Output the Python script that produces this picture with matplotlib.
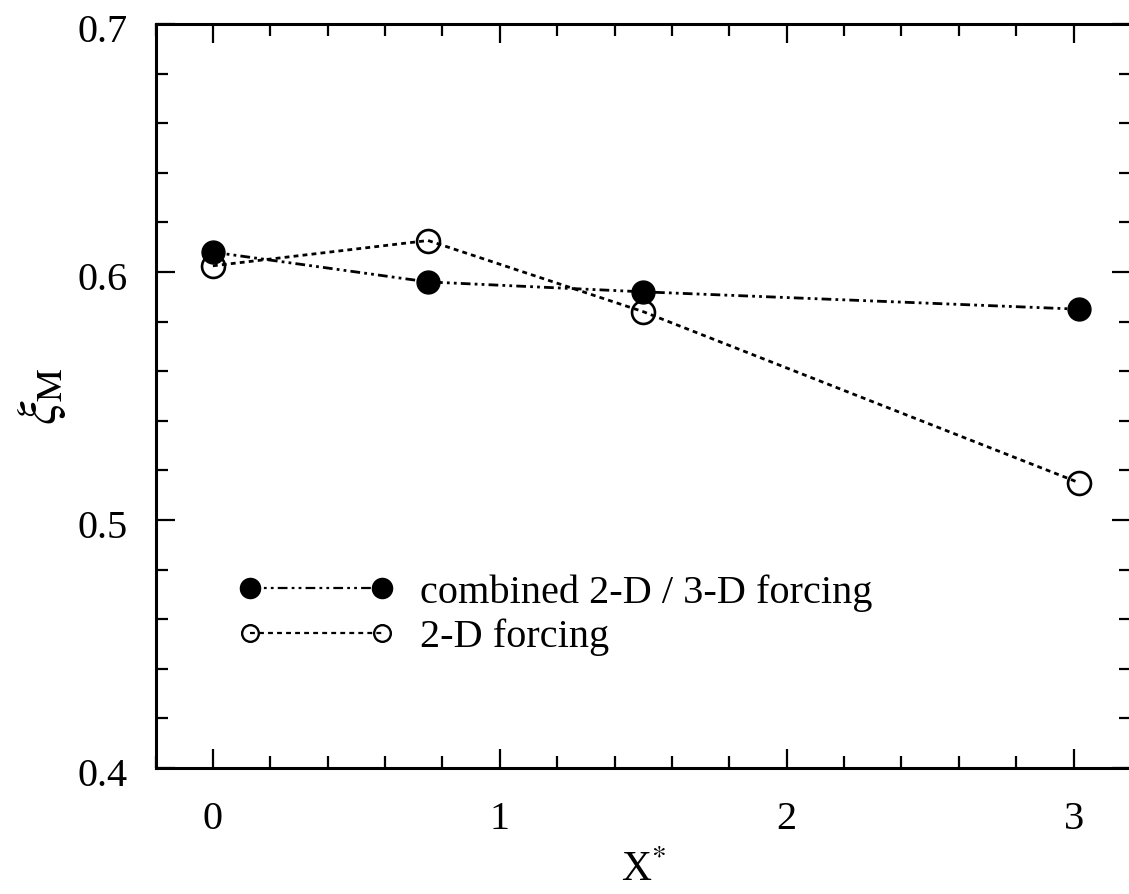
import matplotlib
matplotlib.use("Agg")
import matplotlib.pyplot as plt
from matplotlib.lines import Line2D
from matplotlib.ticker import MultipleLocator
from matplotlib.transforms import ScaledTranslation

plt.rcParams['font.family'] = ['Liberation Serif', 'DejaVu Serif']
plt.rcParams['mathtext.fontset'] = 'stix'
plt.rcParams['lines.scale_dashes'] = False

# data
x_pos = [0.0, 0.75, 1.5, 3.02]
xi_combined = [0.608, 0.596, 0.592, 0.585]
xi_2d = [0.6025, 0.6127, 0.584, 0.515]
label_combined = "combined 2-D / 3-D forcing"
label_2d = "2-D forcing"
x_ticks = [0, 1, 2, 3]
y_ticks = [0.4, 0.5, 0.6, 0.7]

W, H = 1129, 894
fig = plt.figure(figsize=(W / 100, H / 100), dpi=100)
left, right, top, bottom = 155.5, 1131, 24, 768
ax = fig.add_axes([left / W, 1 - bottom / H, (right - left) / W, (bottom - top) / H])

dd = (0, (7, 3, 2, 3, 2, 3))
dot = (0, (3.5, 3))

ax.plot(x_pos, xi_2d, linestyle=dot, color='black', lw=2.0,
        marker='o', markersize=16.5, markerfacecolor='none',
        markeredgecolor='black', markeredgewidth=1.9, zorder=3)
ax.plot(x_pos, xi_combined, linestyle=dd, color='black', lw=2.0,
        marker='o', markersize=16.5, markerfacecolor='black',
        markeredgecolor='black', zorder=4)

ax.set_xlim(-0.2, 3.2)
ax.set_ylim(0.4, 0.7)
ax.set_xticks(x_ticks)
ax.set_xticklabels([str(t) for t in x_ticks])
ax.set_yticks(y_ticks)
ax.set_yticklabels([f"{t:.1f}" for t in y_ticks])
ax.xaxis.set_minor_locator(MultipleLocator(0.2))
ax.yaxis.set_minor_locator(MultipleLocator(0.02))
ax.tick_params(which='both', direction='in', top=True, right=True,
               width=1.6, labelsize=29)
ax.tick_params(which='major', length=14)
ax.tick_params(which='minor', length=8.5)
ax.tick_params(axis='y', which='major', pad=20)
ax.tick_params(axis='x', which='major', pad=24)
for s in ax.spines.values():
    s.set_linewidth(2.2)

shift = ScaledTranslation(0, -4 / 100, fig.dpi_scale_trans)
for lab in ax.get_yticklabels():
    lab.set_transform(lab.get_transform() + shift)

ax.set_xlabel(r"X$^{*}$", fontsize=30, labelpad=9)
ax.set_ylabel(r"$\xi_{\mathrm{M}}$", fontsize=38, labelpad=7)

h1 = Line2D([], [], linestyle=dd, color='black', lw=1.6, marker='o',
            markersize=14.5, markerfacecolor='black', markeredgecolor='black')
h2 = Line2D([], [], linestyle=dot, color='black', lw=1.6, marker='o',
            markersize=12, markerfacecolor='none', markeredgecolor='black',
            markeredgewidth=1.7)
leg = ax.legend([h1, h2], [label_combined, label_2d], loc='upper left',
                bbox_to_anchor=((238 - left) / (right - left), (bottom - 574) / (bottom - top)),
                frameon=False, fontsize=29, handlelength=3.875, handletextpad=0.65,
                labelspacing=0.175, numpoints=2, borderpad=0, borderaxespad=0)

fig.savefig("out.png", dpi=100)
